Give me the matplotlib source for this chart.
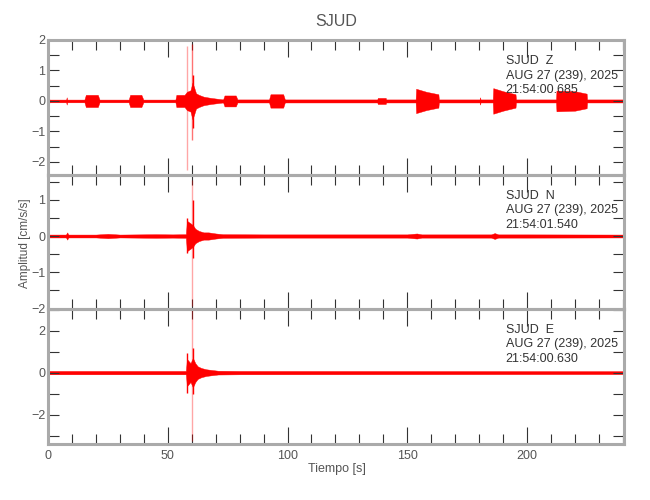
import matplotlib
matplotlib.use("Agg")
import matplotlib.pyplot as plt
from matplotlib.ticker import MultipleLocator
import numpy as np

plt.rcParams['font.family'] = ['Liberation Sans', 'DejaVu Sans']

# ---- data (envelope knots) ----
z_t = [0, 0.3, 0.6, 7.6, 7.8, 8.0, 15.2, 15.8, 20.8, 21.5, 33.7, 34.3, 39.0, 39.8, 53.2, 53.6, 57.0,
       58.0, 59.5, 60.3, 61.0, 61.8, 63, 65, 68, 71, 73.1, 73.7, 78.4, 79.1, 92.3, 92.9, 98.2, 98.9,
       137.5, 137.7, 141.0, 141.2, 153.5, 153.7, 158, 163.0, 163.2, 180.2, 180.4, 180.6,
       185.7, 185.9, 190, 195.2, 195.4, 212.1, 212.3, 220, 224.9, 225.1, 240.5]
z_a = [0.2, 0.2, 0.045, 0.045, 0.12, 0.045, 0.045, 0.2, 0.2, 0.045, 0.045, 0.2, 0.2, 0.045, 0.045, 0.2, 0.2,
       0.3, 0.35, 0.6, 0.45, 0.25, 0.2, 0.14, 0.1, 0.07, 0.05, 0.18, 0.18, 0.05, 0.05, 0.22, 0.22, 0.05,
       0.05, 0.1, 0.1, 0.05, 0.05, 0.4, 0.3, 0.22, 0.05, 0.05, 0.12, 0.05,
       0.05, 0.42, 0.32, 0.22, 0.05, 0.05, 0.34, 0.32, 0.24, 0.05, 0.05]
z_spk_t = [58.2, 60.1, 60.6]
z_spk_hi = [1.80, 1.87, 0.85]
z_spk_lo = [-2.28, -1.28, -0.9]
z_spk_a = [0.35, 0.55, 1.0]

n_t = [0, 0.5, 7.5, 8, 8.5, 20, 25, 30, 45, 52, 57.6, 58.0, 59.5, 60.5, 61.5, 63, 65, 67, 70, 73,
       90, 110, 150, 154, 156, 185, 186.5, 188, 200, 240.5]
n_a = [0.06, 0.04, 0.04, 0.1, 0.04, 0.04, 0.06, 0.04, 0.05, 0.045, 0.05, 0.42, 0.35, 0.3, 0.2,
       0.14, 0.1, 0.1, 0.07, 0.05, 0.045, 0.045, 0.045, 0.07, 0.045, 0.045, 0.08, 0.045, 0.045, 0.04]
n_spk_t = [58.2, 60.3, 60.4]
n_spk_hi = [0.49, 1.55, 1.0]
n_spk_lo = [-0.47, -1.93, -0.6]
n_spk_a = [1.0, 0.35, 1.0]

e_t = [0, 57.6, 58.0, 59.5, 60.5, 61.5, 62.5, 64, 66, 68, 71, 80, 240.5]
e_a = [0.08, 0.08, 0.65, 0.45, 0.7, 0.45, 0.3, 0.22, 0.16, 0.13, 0.09, 0.08, 0.07]
e_spk_t = [58.2, 60.3, 60.5]
e_spk_hi = [0.95, 3.5, 1.18]
e_spk_lo = [-0.98, -3.24, -1.0]
e_spk_a = [1.0, 0.35, 1.0]

stations = ["SJUD  Z", "SJUD  N", "SJUD  E"]
dates = ["AUG 27 (239), 2025"] * 3
times = ["21:54:00.685", "21:54:01.540", "21:54:00.630"]
ylims = [(-2.43, 2.0), (-2.01, 1.68), (-3.4, 3.03)]
yticks = [[-2, -1, 0, 1, 2], [-2, -1, 0, 1], [-2, 0, 2]]
yminor = [0.5, 0.5, 1.0]
xticks = [0, 50, 100, 150, 200]

traces = [(z_t, z_a, z_spk_t, z_spk_hi, z_spk_lo, z_spk_a),
          (n_t, n_a, n_spk_t, n_spk_hi, n_spk_lo, n_spk_a),
          (e_t, e_a, e_spk_t, e_spk_hi, e_spk_lo, e_spk_a)]

fig = plt.figure(figsize=(6.5, 5), dpi=100)
fig.patch.set_facecolor('white')
L, W = 48 / 650, 576 / 650
bounds = [(40, 175), (175, 309), (309, 444)]
frame_c = '#aaaaaa'
tick_c = '#333333'
lab_c = '#555555'

for i, (tr, (y0, y1)) in enumerate(zip(traces, bounds)):
    ax = fig.add_axes([L, 1 - y1 / 500, W, (y1 - y0) / 500])
    ax.patch.set_alpha(0)
    t, a, st, sh, sl, sa = tr
    t = np.array(t); a = np.array(a)
    ax.fill_between(t, -a, a, color='#ff0000', lw=0.3, edgecolor='#ff0000')
    for tt, hi, lo, al in zip(st, sh, sl, sa):
        ax.plot([tt, tt], [lo, hi], color='#ff0000', alpha=al, lw=1.0, solid_capstyle='butt')
    ax.set_xlim(0, 240.5)
    ax.set_ylim(*ylims[i])
    ax.set_yticks(yticks[i])
    ax.yaxis.set_minor_locator(MultipleLocator(yminor[i]))
    ax.set_xticks(xticks)
    ax.xaxis.set_minor_locator(MultipleLocator(10))
    ax.tick_params(which='both', direction='in', top=True, right=True, colors=tick_c,
                   labelcolor=lab_c, labelsize=9, width=0.8, pad=2)
    ax.tick_params(which='major', length=12)
    ax.tick_params(which='minor', length=7)
    ax.tick_params(axis='y', which='both', length=8)
    ax.tick_params(axis='x', pad=4)
    if i < 2:
        ax.tick_params(axis='x', labelbottom=False)
    for s in ax.spines.values():
        s.set_color(frame_c)
        s.set_linewidth(2.2)
    ax.set_yticklabels([("\u2212%d" % -v) if v < 0 else str(v) for v in yticks[i]])
    if i == 2:
        ax.set_xticklabels([str(v) for v in xticks])
    xfig = (48 + 190.7 * 2.4) / 650
    for txt, off in zip([stations[i], dates[i], times[i]], [21, 35.5, 50]):
        fig.text(xfig, 1 - (y0 + off) / 500, txt, fontsize=9, color='#333333',
                 va='center', ha='left')

fig.text(336 / 650, 1 - 21 / 500, "SJUD", ha='center', va='center', fontsize=11.5, color=lab_c)
fig.text(337 / 650, 1 - 469 / 500, "Tiempo [s]", ha='center', va='center', fontsize=9, color=lab_c)
fig.text(25 / 650, 1 - 243 / 500, "Amplitud [cm/s/s]", ha='center', va='center', rotation=90,
         fontsize=8.5, color=lab_c)

fig.savefig("out.png", dpi=100, facecolor='white')
